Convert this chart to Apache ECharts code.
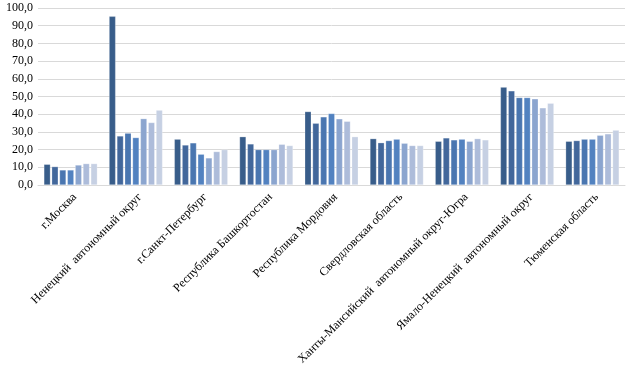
<!DOCTYPE html>
<html>
<head>
<meta charset="utf-8">
<script src="https://cdn.jsdelivr.net/npm/echarts@6/dist/echarts.min.js"></script>
<style>html,body{margin:0;padding:0;background:#fff;}#c{width:629px;height:367px;}</style>
</head>
<body>
<div id="c"></div>
<script>
const categories = ["г.Москва","Ненецкий  автономный округ","г.Санкт-Петербург","Республика Башкортостан","Республика Мордовия","Свердловская область","Ханты-Мансийский  автономный округ-Югра","Ямало-Ненецкий  автономный округ","Тюменская область"];
const s1 = [11.7, 95.3, 25.9, 27.3, 41.5, 26.2, 24.7, 55.3, 24.7];
const s2 = [10.4, 27.7, 22.6, 23.2, 34.9, 23.9, 26.6, 53.2, 25.1];
const s3 = [8.5, 29.3, 23.8, 20.0, 38.5, 25.1, 25.5, 49.4, 25.9];
const s4 = [8.5, 26.8, 17.4, 20.0, 40.4, 25.9, 25.9, 49.4, 25.9];
const s5 = [11.3, 37.5, 15.3, 20.0, 37.4, 23.6, 24.7, 48.7, 28.1];
const s6 = [12.1, 35.3, 18.9, 23.0, 36.0, 22.3, 26.2, 43.6, 28.9];
const s7 = [12.1, 42.3, 20.0, 22.3, 27.3, 22.3, 25.5, 46.2, 31.0];
const seriesData = [s1, s2, s3, s4, s5, s6, s7];
const colors = ["#385d8a", "#42679b", "#4a76b0", "#5282c0", "#8ba5cf", "#adbcda", "#c6d0e3"];

const chart = echarts.init(document.getElementById('c'), null, {renderer: 'canvas'});
chart.setOption({
  animation: false,
  grid: {left: 38, right: 4, top: 8, bottom: 182, outerBoundsMode: 'none', containLabel: false},
  xAxis: {
    type: 'category',
    data: categories,
    axisLine: {lineStyle: {color: '#d9d9d9', width: 1}},
    axisTick: {show: false},
    axisLabel: {
      rotate: 45, interval: 0, margin: 6, verticalAlign: 'top',
      fontFamily: '"Liberation Serif", "Times New Roman", serif',
      fontSize: 12, color: '#000'
    }
  },
  yAxis: {
    type: 'value', min: 0, max: 100, interval: 10,
    axisLine: {show: false}, axisTick: {show: false},
    splitLine: {lineStyle: {color: '#d9d9d9', width: 1}},
    axisLabel: {
      fontFamily: '"Liberation Serif", "Times New Roman", serif',
      fontSize: 12, color: '#000', margin: 5,
      formatter: v => v.toFixed(1).replace('.', ',')
    }
  },
  series: seriesData.map((d, i) => ({
    type: 'bar',
    data: d,
    barGap: '20%',
    barCategoryGap: '18%',
    itemStyle: {color: colors[i], borderColor: 'rgba(255,255,255,0.5)', borderWidth: 0.5}
  }))
});
</script>
</body>
</html>
